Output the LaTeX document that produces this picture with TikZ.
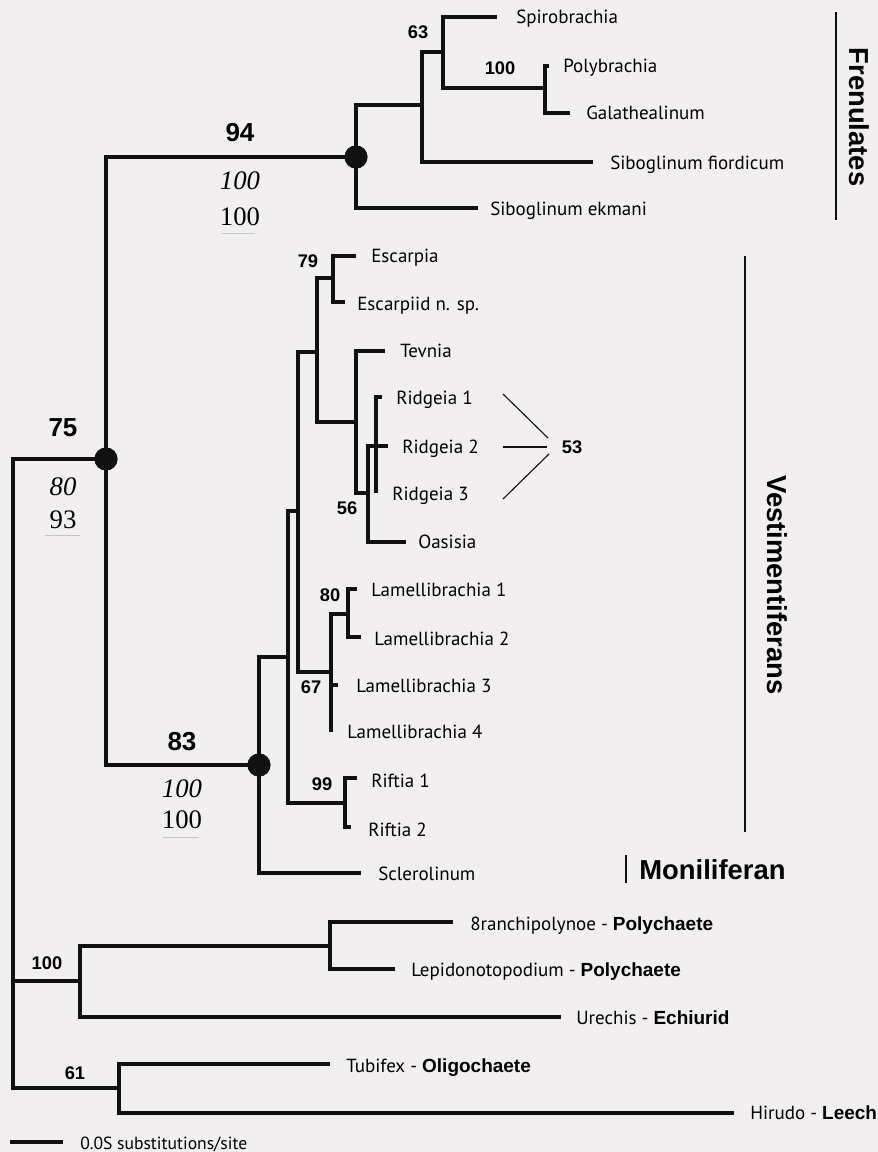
\documentclass[tikz,border=0pt]{standalone}
\usepackage{fontspec}
\setmainfont{PT Sans}
\newfontfamily\hvfont{Liberation Sans}
\newfontfamily\tmfont{Liberation Serif}
\usetikzlibrary{positioning}
\definecolor{paper}{RGB}{241,239,240}
\definecolor{ink}{RGB}{17,17,17}

\begin{document}
\begin{tikzpicture}[x=0.025cm, y=-0.025cm,
        branch/.style={line width=2.2pt, draw=ink},
        bar/.style={line width=1pt, draw=ink},
        taxon/.style={anchor=base west, inner sep=0pt, yshift=-0.15cm, font=\fontsize{13.5}{16}\selectfont},
        boot/.style={inner sep=0pt, font=\hvfont\bfseries\fontsize{13}{15}\selectfont},
        bigboot/.style={inner sep=0pt, font=\hvfont\bfseries\fontsize{18.5}{22}\selectfont},
        post/.style={inner sep=0pt, font=\tmfont\itshape\fontsize{19}{22}\selectfont},
        pars/.style={inner sep=0pt, font=\tmfont\fontsize{19}{22}\selectfont},
        uline/.style={line width=0.6pt, draw=gray!45},
        clade/.style={inner sep=0pt, font=\hvfont\bfseries\fontsize{19.5}{23}\selectfont},
        dot/.style={circle, fill=ink, inner sep=0pt, minimum size=0.58cm}
    ]
        \fill[paper] (0,0) rectangle (878,1152);
        \useasboundingbox (0,0) rectangle (878,1152);

        % Internal nodes
        \coordinate (root) at (13,981);
        \coordinate (n75) at (106,459);
        \coordinate (n94) at (356,157);
        \coordinate (nfr) at (422,105);
        \coordinate (n63) at (443,52);
        \coordinate (n100f) at (545,88);
        \coordinate (n83) at (259,765);
        \coordinate (nv) at (288,657);
        \coordinate (nvb) at (298,511);
        \coordinate (ne) at (317,352);
        \coordinate (n79) at (333,278);
        \coordinate (nt) at (356,422);
        \coordinate (n56) at (368,493);
        \coordinate (nr) at (376,446);
        \coordinate (n67) at (331,672);
        \coordinate (n80) at (348,614);
        \coordinate (n99) at (345,803);
        \coordinate (n100o) at (80,981);
        \coordinate (np) at (330,946);
        \coordinate (n61) at (119,1088);

        % Tips
        \coordinate (tspiro) at (497,17);
        \coordinate (tpoly) at (549,66);
        \coordinate (tgala) at (570,113);
        \coordinate (tfior) at (593,162);
        \coordinate (tekma) at (478,208);
        \coordinate (tescA) at (356,256);
        \coordinate (tescB) at (345,302);
        \coordinate (ttev) at (385,351);
        \coordinate (trid1) at (382,397);
        \coordinate (trid2) at (388,446);
        \coordinate (trid3) at (376,493);
        \coordinate (toas) at (406,542);
        \coordinate (tlam1) at (357,589);
        \coordinate (tlam2) at (361,637);
        \coordinate (tlam3) at (338,685);
        \coordinate (tlam4) at (331,732);
        \coordinate (trif1) at (357,778);
        \coordinate (trif2) at (351,827);
        \coordinate (tscl) at (361,873);
        \coordinate (tbran) at (453,922);
        \coordinate (tlepi) at (395,969);
        \coordinate (turec) at (561,1017);
        \coordinate (ttubi) at (330,1064);
        \coordinate (thiru) at (734,1113);

        % Branches
        \draw[branch] (root) |- (n75);
        \draw[branch] (root) |- (n100o);
        \draw[branch] (root) |- (n61);
        \draw[branch] (n75) |- (n94);
        \draw[branch] (n75) |- (n83);
        \draw[branch] (n94) |- (nfr);
        \draw[branch] (n94) |- (tekma);
        \draw[branch] (nfr) |- (n63);
        \draw[branch] (nfr) |- (tfior);
        \draw[branch] (n63) |- (tspiro);
        \draw[branch] (n63) |- (n100f);
        \draw[branch] (n100f) |- (tpoly);
        \draw[branch] (n100f) |- (tgala);
        \draw[branch] (n83) |- (nv);
        \draw[branch] (n83) |- (tscl);
        \draw[branch] (nv) |- (nvb);
        \draw[branch] (nv) |- (n99);
        \draw[branch] (n99) |- (trif1);
        \draw[branch] (n99) |- (trif2);
        \draw[branch] (nvb) |- (ne);
        \draw[branch] (nvb) |- (n67);
        \draw[branch] (ne) |- (n79);
        \draw[branch] (ne) |- (nt);
        \draw[branch] (n79) |- (tescA);
        \draw[branch] (n79) |- (tescB);
        \draw[branch] (nt) |- (ttev);
        \draw[branch] (nt) |- (n56);
        \draw[branch] (n56) |- (trid2);
        \draw[branch] (n56) |- (toas);
        \draw[branch] (nr) |- (trid1);
        \draw[branch] (nr) |- (trid3);
        \draw[branch] (n67) |- (n80);
        \draw[branch] (n67) |- (tlam3);
        \draw[branch] (n67) |- (tlam4);
        \draw[branch] (n80) |- (tlam1);
        \draw[branch] (n80) |- (tlam2);
        \draw[branch] (n100o) |- (np);
        \draw[branch] (n100o) |- (turec);
        \draw[branch] (np) |- (tbran);
        \draw[branch] (np) |- (tlepi);
        \draw[branch] (n61) |- (ttubi);
        \draw[branch] (n61) |- (thiru);

        \node[dot] (d75) at (n75) {};
        \node[dot] (d94) at (n94) {};
        \node[dot] (d83) at (n83) {};

        % Taxa
        \node[taxon] (spiro) at (516,17) {Spirobrachia};
        \node[taxon] (poly) at (563,66) {Polybrachia};
        \node[taxon] (gala) at (586,113) {Galathealinum};
        \node[taxon] (fior) at (610,163) {Siboglinum fiordicum};
        \node[taxon] (ekma) at (490,209) {Siboglinum ekmani};
        \node[taxon] (escA) at (371,256) {Escarpia};
        \node[taxon] (escB) at (357,304) {Escarpiid n. sp.};
        \node[taxon] (tev) at (400,351) {Tevnia};
        \node[taxon] (rid1) at (396,398) {Ridgeia 1};
        \node[taxon] (rid2) at (402,447) {Ridgeia 2};
        \node[taxon] (rid3) at (392,494) {Ridgeia 3};
        \node[taxon] (oas) at (418,542) {Oasisia};
        \node[taxon] (lam1) at (371,590) {Lamellibrachia 1};
        \node[taxon] (lam2) at (374,639) {Lamellibrachia 2};
        \node[taxon] (lam3) at (356,686) {Lamellibrachia 3};
        \node[taxon] (lam4) at (347,732) {Lamellibrachia 4};
        \node[taxon] (rif1) at (371,781) {Riftia 1};
        \node[taxon] (rif2) at (368,830) {Riftia 2};
        \node[taxon] (scler) at (378,874) {Sclerolinum};
        \node[taxon] (bran) at (470,924) {8ranchipolynoe - {\hvfont\bfseries Polychaete}};
        \node[taxon] (lepi) at (411,970) {Lepidonotopodium - {\hvfont\bfseries Polychaete}};
        \node[taxon] (urec) at (576,1018) {Urechis - {\hvfont\bfseries Echiurid}};
        \node[taxon] (tubi) at (346,1066) {Tubifex - {\hvfont\bfseries Oligochaete}};
        \node[taxon] (hiru) at (750,1113) {Hirudo - {\hvfont\bfseries Leech}};

        % Support values
        \node[boot] (b63) at (418,32) {63};
        \node[boot] (b100f) at (500,68) {100};
        \node[boot] (b79) at (308,261) {79};
        \node[boot] (b56) at (347,508) {56};
        \node[boot] (b80) at (330,595) {80};
        \node[boot] (b67) at (311,687) {67};
        \node[boot] (b99) at (322,784) {99};
        \node[boot] (b100o) at (47,963) {100};
        \node[boot] (b61) at (75,1073) {61};
        \node[boot] (b53) at (572,447) {53};

        \node[bigboot] (b94) at (240,133) {94};
        \node[post] (p94) at (240,181) {100};
        \node[pars] (m94) at (240,217) {100};
        \draw[uline] (222,233) -- (255,233);

        \node[bigboot] (b75) at (63,428) {75};
        \node[post] (p75) at (63,487) {80};
        \node[pars] (m75) at (63,520) {93};
        \draw[uline] (45,535) -- (80,535);

        \node[bigboot] (b83) at (182,742) {83};
        \node[post] (p83) at (182,789) {100};
        \node[pars] (m83) at (182,820) {100};
        \draw[uline] (163,837) -- (199,837);

        % Pointers to 53
        \coordinate (r1a) at (503,394);
        \coordinate (r1b) at (548,438);
        \coordinate (r2a) at (503,447);
        \coordinate (r2b) at (547,447);
        \coordinate (r3a) at (503,499);
        \coordinate (r3b) at (549,454);
        \draw[line width=0.8pt, ink] (r1a) -- (r1b);
        \draw[line width=0.8pt, ink] (r2a) -- (r2b);
        \draw[line width=0.8pt, ink] (r3a) -- (r3b);

        % Clade bars
        \coordinate (fra) at (836,12);
        \coordinate (frb) at (836,220);
        \draw[bar] (fra) -- (frb);
        \node[clade, rotate=-90] (fren) at (859,117) {Frenulates};
        \coordinate (vea) at (745,256);
        \coordinate (veb) at (745,832);
        \draw[bar] (vea) -- (veb);
        \node[clade, rotate=-90] (vest) at (777,585) {Vestimentiferans};
        \coordinate (moa) at (626,855);
        \coordinate (mob) at (626,883);
        \draw[bar] (moa) -- (mob);
        \node[clade, anchor=west] (moni) at (639,870) {Moniliferan};

        % Scale
        \coordinate (sca) at (10,1142);
        \coordinate (scb) at (63,1142);
        \draw[line width=3.2pt, ink] (sca) -- (scb);
        \node[taxon, font=\fontsize{12.5}{15}\selectfont] (sbar) at (80,1143) {0.0S substitutions/site};
    \end{tikzpicture}
\end{document}
